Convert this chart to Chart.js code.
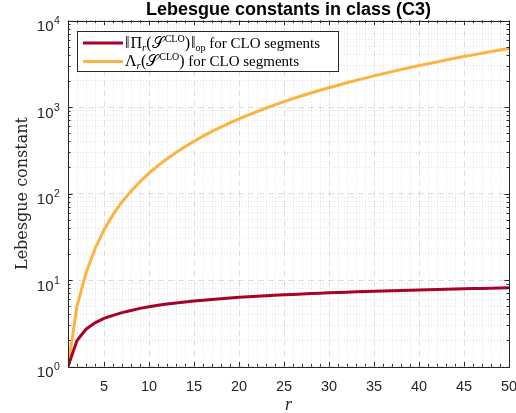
<!DOCTYPE html>
<html>
<head>
<meta charset="utf-8">
<script src="https://cdn.jsdelivr.net/npm/chart.js@4.4.1/dist/chart.umd.min.js"></script>
<style>
    html, body { margin: 0; padding: 0; background: #fff; }
</style>
</head>
<body>
<canvas id="LebesgueChart" width="516" height="413"></canvas>
<script>
// r = 1 .. 50
const rValues = [1, 2, 3, 4, 5, 6, 7, 8, 9, 10, 11, 12, 13, 14, 15, 16, 17, 18, 19, 20,
    21, 22, 23, 24, 25, 26, 27, 28, 29, 30, 31, 32, 33, 34, 35, 36, 37, 38, 39, 40,
    41, 42, 43, 44, 45, 46, 47, 48, 49, 50];

// ||Pi_r(S^CLO)||_op
const opNorm = [1, 2.0, 2.7, 3.2, 3.6, 3.9, 4.2, 4.45, 4.7, 4.9, 5.1, 5.27, 5.43, 5.58, 5.72, 5.85, 5.97, 6.09, 6.2, 6.3,
    6.4, 6.49, 6.58, 6.66, 6.74, 6.82, 6.9, 6.97, 7.04, 7.11, 7.17, 7.23, 7.3, 7.35, 7.41, 7.47, 7.52, 7.57, 7.63, 7.68,
    7.73, 7.77, 7.82, 7.87, 7.91, 7.95, 8.0, 8.04, 8.08, 8.12];

// Lambda_r(S^CLO)
const lebesgue = [1, 5, 12, 23, 38, 57, 80, 106, 137, 172, 210, 252, 298, 348, 402, 460, 522, 587, 656, 730,
    806, 887, 971, 1060, 1152, 1248, 1348, 1452, 1560, 1672, 1788, 1908, 2032, 2160, 2292, 2428, 2568, 2712, 2860, 3012,
    3168, 3328, 3492, 3660, 3832, 4008, 4188, 4372, 4560, 4752];

const xMajorTicks = [5, 10, 15, 20, 25, 30, 35, 40, 45, 50];
const yMajorTicks = [1, 10, 100, 1000, 10000];
const yTickExponents = ['0', '1', '2', '3', '4'];

const redColor = 'rgb(168,2,42)';
const orangeColor = 'rgb(254,178,64)';
const axisColor = '#262626';

// all minor positions for the log axis: 1..9 x decade
let yGridValues = [];
yMajorTicks.forEach(function (d, i) {
    if (i === yMajorTicks.length - 1) {
        yGridValues.push(d);
        return;
    }
    for (let k = 1; k < 10; k++) {
        yGridValues.push(Math.round(k * d));
    }
});

function isMajorX(v) { return xMajorTicks.indexOf(v) >= 0; }
function isMajorY(v) { return yMajorTicks.indexOf(v) >= 0; }

function drawRich(ctx, x, y, parts) {
    parts.forEach(function (p) {
        ctx.font = p.f;
        ctx.fillText(p.t, x, y + (p.dy || 0));
        x += ctx.measureText(p.t).width + (p.gap || 0);
    });
}

const sans = "'Liberation Sans', Arial, sans-serif";
const serif = "'Liberation Serif', 'DejaVu Serif', serif";
const fMath = '16px ' + serif;
const fMain = '15px ' + serif;
const fSub = 'italic 11px ' + serif;
const fSmall = '10px ' + serif;

const matlabAxes = {
    id: 'matlabAxes',
    afterDatasetsDraw: function (chart) {
        const ctx = chart.ctx;
        const a = chart.chartArea;
        const xs = chart.scales.x;
        const ys = chart.scales.y;
        ctx.save();
        ctx.strokeStyle = axisColor;
        ctx.lineWidth = 1;
        ctx.beginPath();
        rValues.forEach(function (v) {
            const px = Math.round(xs.getPixelForValue(v)) + 0.5;
            const len = isMajorX(v) ? 4.5 : 2.5;
            ctx.moveTo(px, a.bottom); ctx.lineTo(px, a.bottom - len);
            ctx.moveTo(px, a.top); ctx.lineTo(px, a.top + len);
        });
        yGridValues.forEach(function (v) {
            const py = Math.round(ys.getPixelForValue(v)) + 0.5;
            const len = isMajorY(v) ? 4.5 : 2.5;
            ctx.moveTo(a.left, py); ctx.lineTo(a.left + len, py);
            ctx.moveTo(a.right, py); ctx.lineTo(a.right - len, py);
        });
        ctx.stroke();
        ctx.strokeRect(Math.round(a.left) + 0.5, Math.round(a.top) + 0.5,
            Math.round(a.right - a.left), Math.round(a.bottom - a.top));

        // y tick labels 10^k
        ctx.fillStyle = axisColor;
        ctx.textBaseline = 'alphabetic';
        yMajorTicks.forEach(function (v, i) {
            const py = ys.getPixelForValue(v);
            ctx.font = '15px ' + sans;
            ctx.textAlign = 'right';
            ctx.fillText('10', 53.5, py + 10.5);
            ctx.font = '10.5px ' + sans;
            ctx.textAlign = 'left';
            ctx.fillText(yTickExponents[i], 54, py + 3.5);
        });

        // legend
        const lx = 77.5, ly = 31.5, lw = 261, lh = 40;
        ctx.fillStyle = '#fff';
        ctx.fillRect(lx, ly, lw, lh);
        ctx.strokeRect(lx, ly, lw, lh);
        ctx.lineWidth = 3;
        ctx.strokeStyle = redColor;
        ctx.beginPath(); ctx.moveTo(83, 43); ctx.lineTo(123, 43); ctx.stroke();
        ctx.strokeStyle = orangeColor;
        ctx.beginPath(); ctx.moveTo(83, 61.5); ctx.lineTo(123, 61.5); ctx.stroke();
        ctx.fillStyle = '#000';
        ctx.textAlign = 'left';
        drawRich(ctx, 125, 48, [
            {t: '‖', f: fMath, gap: 1},
            {t: 'Π', f: fMath},
            {t: 'r', f: fSub, dy: 3},
            {t: '(', f: fMath},
            {t: '𝒮', f: fMath, gap: 1},
            {t: 'CLO', f: fSmall, dy: -6},
            {t: ')', f: fMath, gap: 1},
            {t: '‖', f: fMath},
            {t: 'op', f: fSmall, dy: 3},
            {t: ' for CLO segments', f: fMain}
        ]);
        drawRich(ctx, 125, 66, [
            {t: 'Λ', f: fMath},
            {t: 'r', f: fSub, dy: 3},
            {t: '(', f: fMath},
            {t: '𝒮', f: fMath, gap: 1},
            {t: 'CLO', f: fSmall, dy: -6},
            {t: ')', f: fMath},
            {t: ' for CLO segments', f: fMain}
        ]);
        ctx.restore();
    }
};

const chart = new Chart(document.getElementById('LebesgueChart'), {
    type: 'line',
    data: {
        datasets: [
            {
                label: '||Pi_r(S^CLO)||_op for CLO segments',
                data: rValues.map(function (r, i) { return {x: r, y: opNorm[i]}; }),
                borderColor: redColor,
                borderWidth: 3,
                pointRadius: 0,
                tension: 0
            },
            {
                label: 'Lambda_r(S^CLO) for CLO segments',
                data: rValues.map(function (r, i) { return {x: r, y: lebesgue[i]}; }),
                borderColor: orangeColor,
                borderWidth: 3,
                pointRadius: 0,
                tension: 0
            }
        ]
    },
    options: {
        responsive: false,
        animation: false,
        devicePixelRatio: 1,
        layout: {padding: {left: 0, right: 0, top: 0, bottom: 0}},
        scales: {
            x: {
                type: 'linear',
                min: 1,
                max: 50,
                afterBuildTicks: function (scale) {
                    scale.ticks = rValues.map(function (v) { return {value: v}; });
                },
                afterFit: function (scale) {
                    scale.height = 46.5;
                    scale.paddingLeft = 0;
                    scale.paddingRight = 7;
                },
                ticks: {
                    autoSkip: false,
                    maxRotation: 0,
                    padding: 12,
                    color: axisColor,
                    font: {family: sans, size: 14.5},
                    callback: function (v) { return isMajorX(v) ? String(v) : ''; }
                },
                grid: {
                    drawTicks: false,
                    color: function (c) { return c.tick && isMajorX(c.tick.value) ? 'rgba(38,38,38,0.15)' : 'rgba(38,38,38,0.13)'; },
                    lineWidth: 1
                },
                border: {
                    display: false,
                    dash: function (c) { return c.tick && isMajorX(c.tick.value) ? [6, 4] : [1, 2]; }
                },
                title: {
                    display: true,
                    text: 'r',
                    color: axisColor,
                    padding: {top: 0, bottom: -3},
                    font: {family: serif, size: 18, style: 'italic'}
                }
            },
            y: {
                type: 'logarithmic',
                min: 1,
                max: 10000,
                afterBuildTicks: function (scale) {
                    scale.ticks = yGridValues.map(function (v) { return {value: v}; });
                },
                afterFit: function (scale) { scale.width = 68; },
                ticks: {
                    autoSkip: false,
                    padding: 6,
                    callback: function () { return ''; }
                },
                grid: {
                    drawTicks: false,
                    color: function (c) { return c.tick && isMajorY(c.tick.value) ? 'rgba(38,38,38,0.15)' : 'rgba(38,38,38,0.13)'; },
                    lineWidth: 1
                },
                border: {
                    display: false,
                    dash: function (c) { return c.tick && isMajorY(c.tick.value) ? [6, 4] : [1, 2]; }
                },
                title: {
                    display: true,
                    text: 'Lebesgue constant',
                    color: axisColor,
                    padding: {top: 13, bottom: 0},
                    font: {family: "'DejaVu Serif', serif", size: 16, weight: 'normal'}
                }
            }
        },
        plugins: {
            legend: {display: false},
            tooltip: {enabled: false},
            title: {
                display: true,
                fullSize: false,
                text: 'Lebesgue constants in class (C3)',
                color: '#000',
                padding: 0,
                font: {family: sans, size: 18, weight: 'bold', lineHeight: 1.14}
            }
        }
    },
    plugins: [matlabAxes]
});
</script>
</body>
</html>
